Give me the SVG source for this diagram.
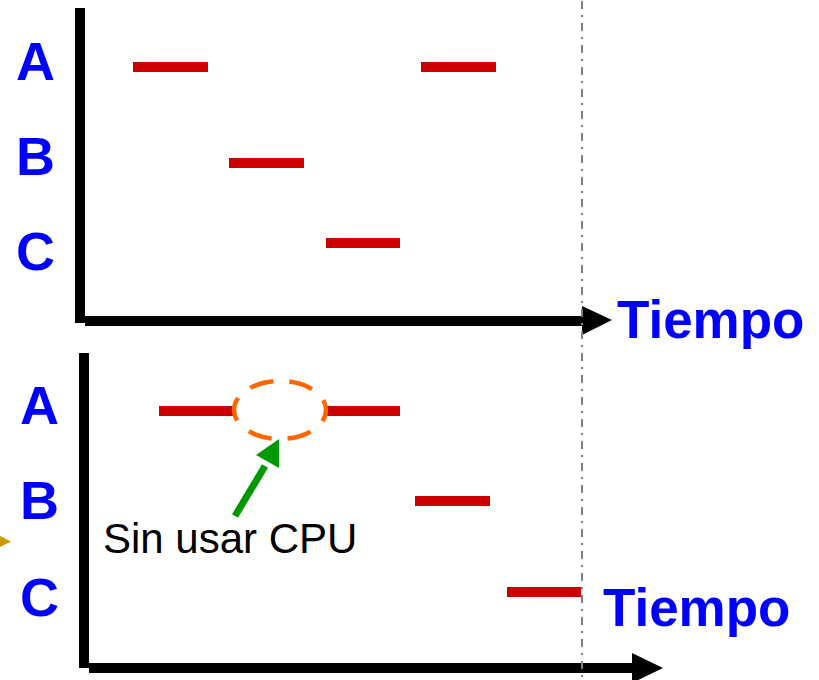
<svg xmlns="http://www.w3.org/2000/svg" width="819" height="680" viewBox="0 0 819 680">
<style>
.lbl{font-family:"Liberation Sans",Arial,sans-serif;font-weight:bold;fill:#0000FF;font-size:54px;text-anchor:middle}
.time{font-family:"Liberation Sans",Arial,sans-serif;font-weight:bold;fill:#0000FF;font-size:53px}
.note{font-family:"Liberation Sans",Arial,sans-serif;fill:#000;font-size:42px}
.bar{stroke:#CC0000;stroke-width:10;fill:none}
.axis{stroke:#000;stroke-width:10;fill:none}
</style>
<rect width="819" height="680" fill="#fff"/>
<g id="top-chart">
  <g id="top-axes">
    <line class="axis" x1="80" y1="8" x2="80" y2="323"/>
    <line class="axis" x1="85" y1="321" x2="584" y2="321"/>
    <polygon points="582,306 612,320 582,335" fill="#000"/>
  </g>
  <g id="top-labels">
    <text class="lbl" x="35.5" y="80">A</text>
    <text class="lbl" x="35.5" y="175">B</text>
    <text class="lbl" x="35.5" y="270">C</text>
    <text class="time" x="617" y="338">Tiempo</text>
  </g>
  <g id="top-bars">
    <line class="bar" x1="133" y1="67" x2="208" y2="67"/>
    <line class="bar" x1="421" y1="67" x2="496" y2="67"/>
    <line class="bar" x1="229" y1="163" x2="304" y2="163"/>
    <line class="bar" x1="326" y1="243" x2="400" y2="243"/>
  </g>
</g>
<g id="bottom-chart">
  <g id="bottom-axes">
    <line class="axis" x1="84" y1="353" x2="84" y2="668"/>
    <line class="axis" x1="89" y1="668" x2="634" y2="668"/>
    <polygon points="632,653 663,668 632,683" fill="#000"/>
  </g>
  <g id="bottom-labels">
    <text class="lbl" x="39.5" y="424">A</text>
    <text class="lbl" x="39.5" y="519">B</text>
    <text class="lbl" x="39.5" y="616">C</text>
    <text class="time" x="603" y="626">Tiempo</text>
  </g>
  <g id="bottom-bars">
    <line class="bar" x1="159" y1="411" x2="233" y2="411"/>
    <line class="bar" x1="326" y1="411" x2="400" y2="411"/>
    <line class="bar" x1="415" y1="501" x2="490" y2="501"/>
    <line class="bar" x1="507" y1="592" x2="581" y2="592"/>
  </g>
  <g id="idle-gap">
    <ellipse cx="280" cy="410" rx="46" ry="29" fill="none" stroke="#FF6600" stroke-width="4.5" stroke-dasharray="24 16" stroke-dashoffset="12"/>
  </g>
  <g id="note">
    <text class="note" x="103" y="553">Sin usar CPU</text>
  </g>
</g>
<g id="connectors">
  <line x1="235" y1="516" x2="265" y2="466" stroke="#009900" stroke-width="7"/>
  <polygon points="279,439 256,455 279,468" fill="#009900"/>
  <polygon points="0,536 11,541.5 0,547" fill="#CC9900"/>
  <line x1="582" y1="0" x2="582" y2="680" stroke="#808080" stroke-width="2" stroke-dasharray="8 6 2 6" stroke-dashoffset="-1"/>
</g>
</svg>
